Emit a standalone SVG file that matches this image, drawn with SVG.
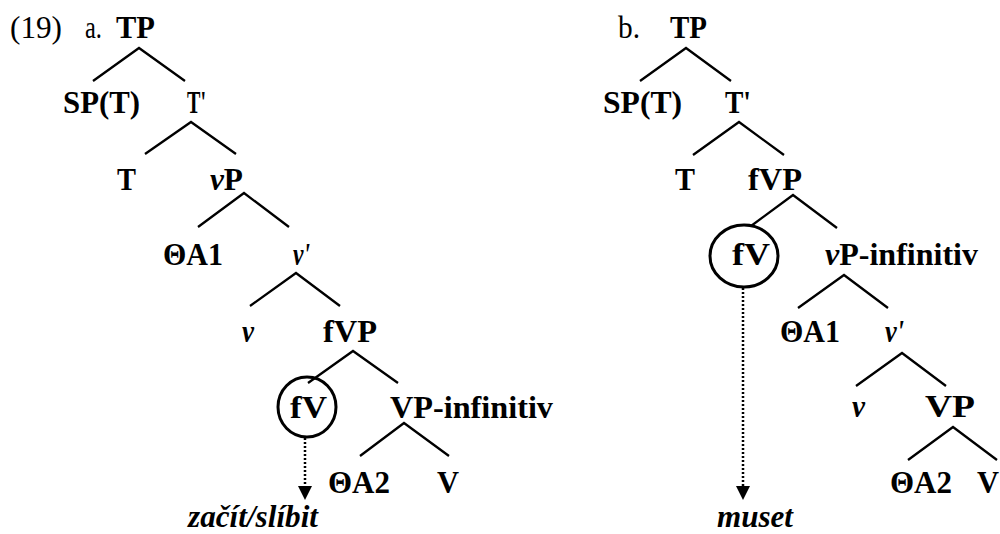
<svg xmlns="http://www.w3.org/2000/svg" width="1000" height="534" viewBox="0 0 1000 534">
<style>
text{font-family:"Liberation Serif","Times New Roman",serif;font-size:31px;fill:#000}
.b{font-weight:bold}
.i{font-style:italic}
.e{font-weight:bold;font-style:italic}
.ln{stroke:#000;stroke-width:2.3;fill:none}
.dot{stroke:#000;stroke-width:2.5;stroke-dasharray:2 2;fill:none}
.ring{stroke:#000;stroke-width:3;fill:none}
</style>
<rect width="1000" height="534" fill="#fff"/>
<g id="connectors">
<path class="ln" d="M93,81 L139,48 L185,81"/>
<path class="ln" d="M145,154 L191,122 L236,154"/>
<path class="ln" d="M198,227 L244,193 L289,227"/>
<path class="ln" d="M250,306 L296,273 L340,306"/>
<path class="ln" d="M308,383 L353,351 L398,383"/>
<path class="ln" d="M360,456 L404,423 L449,456"/>
<line class="dot" x1="305" y1="438" x2="305" y2="486"/>
<path d="M298,486 L312,486 L305,500 Z" fill="#000"/>
<path class="ln" d="M640,81 L686,48 L731,81"/>
<path class="ln" d="M693,155 L739,122 L784,155"/>
<path class="ln" d="M751,226 L793,195 L837,228"/>
<path class="ln" d="M798,308 L844,275 L888,308"/>
<path class="ln" d="M856,386 L902,353 L946,386"/>
<path class="ln" d="M908,460 L953,427 L997,460"/>
<line class="dot" x1="743" y1="288" x2="743" y2="486"/>
<path d="M736,486 L750,486 L743,500 Z" fill="#000"/>
</g>
<g id="label-19"><text x="10" y="38" textLength="52" lengthAdjust="spacingAndGlyphs">(19)</text></g>
<g id="label-a"><text x="85" y="38" textLength="17" lengthAdjust="spacingAndGlyphs">a.</text></g>
<g id="a-TP"><text class="b" x="116" y="38" textLength="39" lengthAdjust="spacingAndGlyphs">TP</text></g>
<g id="a-SPT"><text class="b" x="63" y="113" textLength="77" lengthAdjust="spacingAndGlyphs">SP(T)</text></g>
<g id="a-Tbar"><text class="b" x="187" y="113" textLength="19" lengthAdjust="spacingAndGlyphs">T'</text></g>
<g id="a-T"><text class="b" x="117" y="190" textLength="19" lengthAdjust="spacingAndGlyphs">T</text></g>
<g id="a-vP"><text class="b" x="210" y="190" textLength="33" lengthAdjust="spacingAndGlyphs"><tspan class="e">v</tspan>P</text></g>
<g id="a-TA1"><text class="b" x="163" y="265" textLength="60" lengthAdjust="spacingAndGlyphs">ΘA1</text></g>
<g id="a-vbar"><text class="e" x="293" y="265" textLength="17" lengthAdjust="spacingAndGlyphs">v'</text></g>
<g id="a-v"><text class="e" x="242" y="342" textLength="12" lengthAdjust="spacingAndGlyphs">v</text></g>
<g id="a-fVP"><text class="b" x="323" y="342" textLength="54" lengthAdjust="spacingAndGlyphs">fVP</text></g>
<g id="a-fV"><ellipse class="ring" cx="307" cy="407" rx="29" ry="30"/><text class="b" x="290" y="418" textLength="37" lengthAdjust="spacingAndGlyphs">fV</text></g>
<g id="a-VPinf"><text class="b" x="390" y="418" textLength="163" lengthAdjust="spacingAndGlyphs">VP-infinitiv</text></g>
<g id="a-TA2"><text class="b" x="328" y="493" textLength="62" lengthAdjust="spacingAndGlyphs">ΘA2</text></g>
<g id="a-V"><text class="b" x="437" y="493" textLength="22" lengthAdjust="spacingAndGlyphs">V</text></g>
<g id="a-verb"><text class="e" x="188" y="527" textLength="130" lengthAdjust="spacingAndGlyphs">začít/slíbit</text></g>
<g id="label-b"><text x="618" y="38" textLength="22" lengthAdjust="spacingAndGlyphs">b.</text></g>
<g id="b-TP"><text class="b" x="670" y="38" textLength="37" lengthAdjust="spacingAndGlyphs">TP</text></g>
<g id="b-SPT"><text class="b" x="603" y="113" textLength="79" lengthAdjust="spacingAndGlyphs">SP(T)</text></g>
<g id="b-Tbar"><text class="b" x="725" y="113" textLength="26" lengthAdjust="spacingAndGlyphs">T'</text></g>
<g id="b-T"><text class="b" x="675" y="190" textLength="20" lengthAdjust="spacingAndGlyphs">T</text></g>
<g id="b-fVP"><text class="b" x="748" y="190" textLength="54" lengthAdjust="spacingAndGlyphs">fVP</text></g>
<g id="b-fV"><ellipse class="ring" cx="744" cy="256" rx="34" ry="31"/><text class="b" x="732" y="265" textLength="38" lengthAdjust="spacingAndGlyphs">fV</text></g>
<g id="b-vPinf"><text class="b" x="825" y="265" textLength="153" lengthAdjust="spacingAndGlyphs"><tspan class="e">v</tspan>P-infinitiv</text></g>
<g id="b-TA1"><text class="b" x="780" y="342" textLength="60" lengthAdjust="spacingAndGlyphs">ΘA1</text></g>
<g id="b-vbar"><text class="e" x="885" y="342" textLength="19" lengthAdjust="spacingAndGlyphs">v'</text></g>
<g id="b-v"><text class="e" x="852" y="417" textLength="13" lengthAdjust="spacingAndGlyphs">v</text></g>
<g id="b-VP"><text class="b" x="925" y="417" textLength="50" lengthAdjust="spacingAndGlyphs">VP</text></g>
<g id="b-TA2"><text class="b" x="890" y="493" textLength="62" lengthAdjust="spacingAndGlyphs">ΘA2</text></g>
<g id="b-V"><text class="b" x="977" y="493" textLength="22" lengthAdjust="spacingAndGlyphs">V</text></g>
<g id="b-verb"><text class="e" x="717" y="527" textLength="76" lengthAdjust="spacingAndGlyphs">muset</text></g>
</svg>
